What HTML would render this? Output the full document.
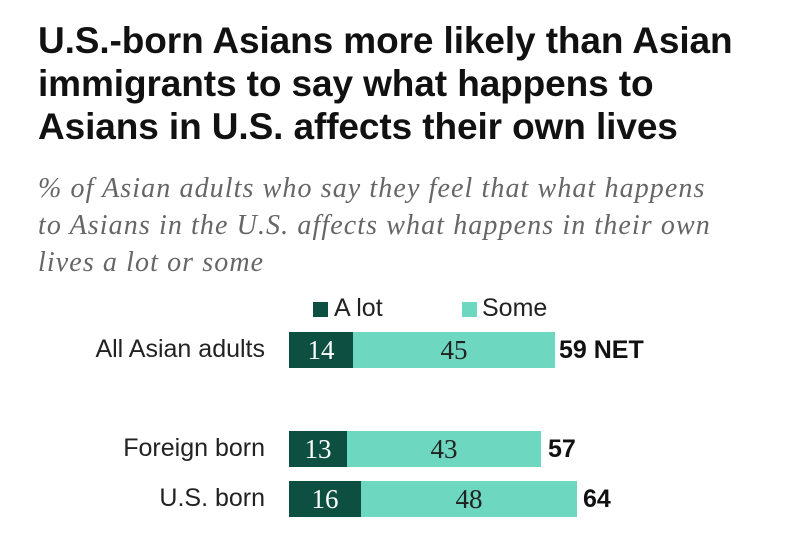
<!DOCTYPE html>
<html><head><style>
body{margin:0;width:800px;height:538px;background:#fff;position:relative;overflow:hidden;font-family:"Liberation Sans",sans-serif}
.t{position:absolute;left:38px;top:19px;font-weight:bold;font-size:37px;line-height:43px;color:#111;letter-spacing:-0.1px}
.s{position:absolute;left:38px;top:170px;font-family:"Liberation Serif",serif;font-style:italic;font-size:28px;line-height:37px;color:#666;letter-spacing:1.1px;white-space:nowrap}
.a{position:absolute}
.lbl{position:absolute;right:535px;font-size:25px;color:#222;text-align:right;white-space:nowrap}
.bar{position:absolute;height:36px;font-family:"Liberation Serif",serif;font-size:27px;line-height:36px;text-align:center}
.d{background:#0d4f40;color:#fff}
.l{background:#6dd8bf;color:#222}
.n{position:absolute;font-weight:bold;font-size:25px;line-height:36px;color:#111}
</style></head><body>
<div class="t">U.S.-born Asians more likely than Asian<br>immigrants to say what happens to<br>Asians in U.S. affects their own lives</div>
<div class="s">% of Asian adults who say they feel that what happens<br>to Asians in the U.S. affects what happens in their own<br>lives a lot or some</div>
<div class="a" style="left:313px;top:302px;width:15px;height:15px;background:#0d4f40"></div>
<div class="a" style="left:334px;top:294px;font-size:25px;color:#222">A lot</div>
<div class="a" style="left:462px;top:302px;width:15px;height:15px;background:#6dd8bf"></div>
<div class="a" style="left:482px;top:294px;font-size:25px;color:#222">Some</div>

<div class="lbl" style="top:335px">All Asian adults</div>
<div class="bar d" style="left:289px;top:332px;width:64px">14</div>
<div class="bar l" style="left:353px;top:332px;width:202px">45</div>
<div class="n" style="left:559px;top:332px">59 NET</div>

<div class="lbl" style="top:434px">Foreign born</div>
<div class="bar d" style="left:289px;top:431px;width:58px">13</div>
<div class="bar l" style="left:347px;top:431px;width:194px">43</div>
<div class="n" style="left:548px;top:431px">57</div>

<div class="lbl" style="top:484px">U.S. born</div>
<div class="bar d" style="left:289px;top:481px;width:72px">16</div>
<div class="bar l" style="left:361px;top:481px;width:216px">48</div>
<div class="n" style="left:583px;top:481px">64</div>
</body></html>
